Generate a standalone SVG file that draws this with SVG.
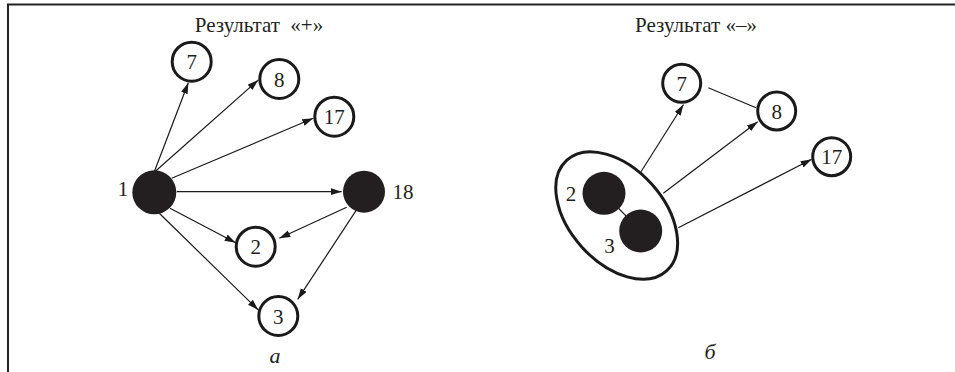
<svg xmlns="http://www.w3.org/2000/svg" width="955" height="372" viewBox="0 0 955 372">
<style>
.frame{stroke:#222;stroke-width:2;fill:none}
.open{fill:#fff;stroke:#1a1a1a;stroke-width:3}
.solid{fill:#231f20;stroke:none}
.edge{stroke:#1a1a1a;stroke-width:1.2;fill:none}
.arr{marker-end:url(#ah)}
text{font-family:"Liberation Serif","Times New Roman",serif;fill:#231f20}
.lbl{font-size:21px;text-anchor:middle}
.ttl{font-size:21px;text-anchor:middle}
.cap{font-size:22px;font-style:italic;text-anchor:middle}
</style>
<defs>
<marker id="ah" markerUnits="userSpaceOnUse" markerWidth="12" markerHeight="8" refX="11" refY="3.5" orient="auto">
<path d="M0,0 L11,3.5 L0,7 z" fill="#1a1a1a"/>
</marker>
</defs>
<path class="frame" d="M8,372 V4.5 H955"/>
<g font-family="Liberation Serif, serif">
<text class="ttl" x="259" y="32" xml:space="preserve">Результат  «+»</text>
<text class="ttl" x="696" y="32">Результат «–»</text>
</g>
<g id="connectors">
<line class="edge arr" x1="154" y1="172.5" x2="188.3" y2="82.7"/>
<line class="edge arr" x1="154" y1="172.5" x2="258.3" y2="80"/>
<line class="edge arr" x1="171.7" y1="178.3" x2="313.3" y2="118.3"/>
<line class="edge arr" x1="176.7" y1="191.7" x2="341.7" y2="191.7"/>
<line class="edge arr" x1="170" y1="208.3" x2="235.7" y2="242.7"/>
<line class="edge arr" x1="159.3" y1="213.3" x2="258.3" y2="310"/>
<line class="edge arr" x1="346.7" y1="207.3" x2="279.3" y2="238.3"/>
<line class="edge arr" x1="356" y1="210.7" x2="297.7" y2="299.3"/>
<line class="edge arr" x1="641" y1="171.7" x2="683.5" y2="104.5"/>
<line class="edge arr" x1="663.3" y1="193.3" x2="757.7" y2="121.7"/>
<line class="edge arr" x1="678.3" y1="227.7" x2="811.7" y2="159.3"/>
<line class="edge" x1="708.3" y1="87.7" x2="756" y2="107.7"/>
<line class="edge" x1="604" y1="193.3" x2="640.7" y2="231"/>
</g>
<g id="n1"><circle class="solid" cx="154.3" cy="192.3" r="22"/><text class="lbl" x="123" y="195.5">1</text></g>
<g id="n18"><circle class="solid" cx="364" cy="191.7" r="21"/><text class="lbl" x="403" y="198.5">18</text></g>
<g id="n7a"><circle class="open" cx="191.7" cy="61.7" r="19.5"/><text class="lbl" x="191.7" y="69.2">7</text></g>
<g id="n8a"><circle class="open" cx="279.3" cy="79" r="19.5"/><text class="lbl" x="279.3" y="86.5">8</text></g>
<g id="n17a"><circle class="open" cx="334.3" cy="116.7" r="19.5"/><text class="lbl" x="334.3" y="124.2">17</text></g>
<g id="n2a"><circle class="open" cx="255.7" cy="246.7" r="19.5"/><text class="lbl" x="255.7" y="254.2">2</text></g>
<g id="n3a"><circle class="open" cx="278.3" cy="316" r="19.5"/><text class="lbl" x="278.3" y="323.5">3</text></g>
<text class="cap" x="275" y="363">а</text>
<g id="group23">
<ellipse class="open" style="fill:none" cx="616.7" cy="215.5" rx="74.5" ry="47" transform="rotate(48 616.7 215.5)"/>
<circle class="solid" cx="604" cy="193.3" r="21.5"/>
<circle class="solid" cx="640.7" cy="231" r="21.5"/>
<text class="lbl" x="571" y="200.5">2</text>
<text class="lbl" x="609.5" y="252.5">3</text>
</g>
<g id="n7b"><circle class="open" cx="681.7" cy="83.3" r="19"/><text class="lbl" x="681.7" y="90.8">7</text></g>
<g id="n8b"><circle class="open" cx="776.7" cy="111" r="19"/><text class="lbl" x="776.7" y="118.5">8</text></g>
<g id="n17b"><circle class="open" cx="831.7" cy="156.7" r="19"/><text class="lbl" x="831.7" y="164.2">17</text></g>
<text class="cap" x="710" y="359">б</text>
</svg>
